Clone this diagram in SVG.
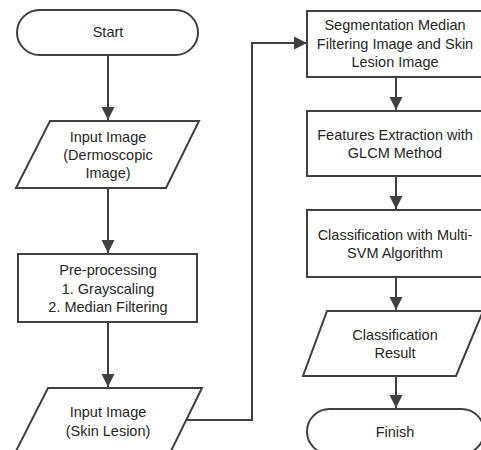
<svg xmlns="http://www.w3.org/2000/svg" width="481" height="450" viewBox="0 0 481 450">
<style>
.s{fill:#ffffff;stroke:#404040;stroke-width:2;stroke-linejoin:miter}
.t{font-family:"Liberation Sans",Arial,sans-serif;font-size:14.5px;fill:#262626;text-anchor:middle}
.c{fill:none;stroke:#404040;stroke-width:2}
</style>
<defs>
<marker id="ah" markerUnits="userSpaceOnUse" markerWidth="14" markerHeight="14" viewBox="0 0 14 14" refX="13" refY="7" orient="auto">
<path d="M0,0.5 L13,7 L0,13.5 Z" fill="#404040"/>
</marker>
</defs>
<rect width="481" height="450" fill="#ffffff"/>
<g id="connectors">
<path class="c" d="M108,55 V120" marker-end="url(#ah)"/>
<path class="c" d="M108,188 V253" marker-end="url(#ah)"/>
<path class="c" d="M108,322 V387" marker-end="url(#ah)"/>
<path class="c" d="M187,420 H252 V43 H307" marker-end="url(#ah)"/>
<path class="c" d="M396,77 V110" marker-end="url(#ah)"/>
<path class="c" d="M396,176 V209" marker-end="url(#ah)"/>
<path class="c" d="M396,277 V310" marker-end="url(#ah)"/>
<path class="c" d="M396,376 V408" marker-end="url(#ah)"/>
</g>
<g id="start">
<rect class="s" x="17" y="10" width="181" height="45" rx="22.5" ry="22.5"/>
<text class="t" x="108" y="37">Start</text>
</g>
<g id="input-dermoscopic">
<path class="s" d="M50,121 H199 L166,188 H16 Z"/>
<text class="t" x="108" y="142">Input Image</text>
<text class="t" x="108" y="160">(Dermoscopic</text>
<text class="t" x="108" y="178">Image)</text>
</g>
<g id="preprocessing">
<rect class="s" x="18" y="254" width="179" height="68"/>
<text class="t" x="108" y="275">Pre-processing</text>
<text class="t" x="108" y="293.5">1. Grayscaling</text>
<text class="t" x="108" y="312">2. Median Filtering</text>
</g>
<g id="input-skin-lesion">
<path class="s" d="M48,388 H202 L169,455 H14 Z"/>
<text class="t" x="108" y="417">Input Image</text>
<text class="t" x="108" y="436">(Skin Lesion)</text>
</g>
<g id="segmentation">
<rect class="s" x="307" y="11" width="177" height="66"/>
<text class="t" x="395" y="30">Segmentation Median</text>
<text class="t" x="395" y="48.5">Filtering Image and Skin</text>
<text class="t" x="395" y="67">Lesion Image</text>
</g>
<g id="features">
<rect class="s" x="307" y="111" width="177" height="65"/>
<text class="t" x="395" y="140">Features Extraction with</text>
<text class="t" x="395" y="158">GLCM Method</text>
</g>
<g id="classification">
<rect class="s" x="307" y="210" width="177" height="67"/>
<text class="t" x="395" y="240">Classification with Multi-</text>
<text class="t" x="395" y="258">SVM Algorithm</text>
</g>
<g id="result">
<path class="s" d="M327,311 H483 L456,376 H303 Z"/>
<text class="t" x="395" y="340">Classification</text>
<text class="t" x="395" y="358">Result</text>
</g>
<g id="finish">
<rect class="s" x="307" y="409" width="177" height="45" rx="22.5" ry="22.5"/>
<text class="t" x="395" y="437">Finish</text>
</g>
</svg>
